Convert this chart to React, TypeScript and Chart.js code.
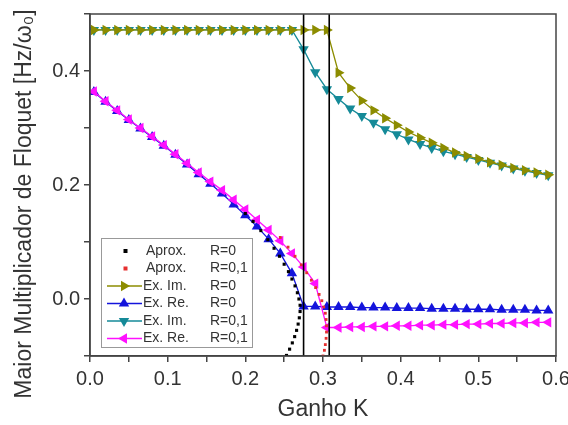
import React, { useEffect, useRef } from 'react';
import { Chart, registerables } from 'chart.js';

Chart.register(...registerables);

// ---------- data ----------
const kGrid = [
  0.005, 0.020, 0.035, 0.050, 0.065, 0.080, 0.095, 0.110, 0.125, 0.140,
  0.155, 0.170, 0.185, 0.200, 0.215, 0.230, 0.245, 0.260, 0.275, 0.290,
  0.305, 0.320, 0.335, 0.350, 0.365, 0.380, 0.395, 0.410, 0.425, 0.440,
  0.455, 0.470, 0.485, 0.500, 0.515, 0.530, 0.545, 0.560, 0.575, 0.590,
];

// Ex. Im. R=0
const exImR0 = [
  0.472, 0.472, 0.472, 0.472, 0.472, 0.472, 0.472, 0.472, 0.472, 0.472,
  0.472, 0.472, 0.472, 0.472, 0.472, 0.472, 0.472, 0.472, 0.472, 0.472,
  0.472, 0.397, 0.370, 0.348, 0.331, 0.317, 0.305, 0.293, 0.283, 0.274,
  0.265, 0.257, 0.251, 0.246, 0.240, 0.235, 0.230, 0.226, 0.222, 0.218,
];

// Ex. Im. R=0,1
const exImR01 = [
  0.472, 0.472, 0.472, 0.472, 0.472, 0.472, 0.472, 0.472, 0.472, 0.472,
  0.472, 0.472, 0.472, 0.472, 0.472, 0.472, 0.472, 0.472, 0.438, 0.398,
  0.368, 0.351, 0.334, 0.321, 0.309, 0.298, 0.289, 0.280, 0.272, 0.265,
  0.259, 0.254, 0.249, 0.244, 0.239, 0.234, 0.229, 0.225, 0.221, 0.217,
];

// Ex. Re. R=0
const exReR0 = [
  0.363, 0.346, 0.330, 0.314, 0.299, 0.284, 0.269, 0.253, 0.236, 0.219,
  0.202, 0.185, 0.166, 0.147, 0.127, 0.105, 0.080, 0.045, -0.013, -0.013,
  -0.014, -0.014, -0.014, -0.015, -0.015, -0.015, -0.016, -0.016, -0.016, -0.017,
  -0.017, -0.017, -0.018, -0.018, -0.018, -0.019, -0.019, -0.019, -0.020, -0.020,
];

// Ex. Re. R=0,1
const exReR01 = [
  0.364, 0.347, 0.331, 0.315, 0.300, 0.285, 0.270, 0.254, 0.238, 0.222,
  0.206, 0.191, 0.174, 0.157, 0.139, 0.121, 0.102, 0.080, 0.056, 0.027,
  -0.050, -0.050, -0.049, -0.049, -0.048, -0.048, -0.047, -0.047, -0.046, -0.046,
  -0.045, -0.045, -0.044, -0.044, -0.043, -0.043, -0.042, -0.042, -0.041, -0.041,
];

// Aprox. R=0
const aproxR0K = [
  0.200, 0.210, 0.220, 0.229, 0.237, 0.244, 0.250, 0.2555, 0.260, 0.264, 0.267,
  0.269, 0.2705, 0.2705, 0.2695, 0.268, 0.266, 0.2635, 0.2605, 0.257, 0.253,
];
const aproxR0V = [
  0.150, 0.136, 0.120, 0.104, 0.089, 0.075, 0.061, 0.048, 0.035, 0.023, 0.011,
  0.000, -0.011, -0.022, -0.033, -0.044, -0.055, -0.066, -0.077, -0.088, -0.099,
];

// Aprox. R=0,1
const aproxR01K = [
  0.245, 0.255, 0.264, 0.272, 0.279, 0.285, 0.2905, 0.295, 0.2985,
  0.301, 0.303, 0.304, 0.3045, 0.3045, 0.304, 0.303, 0.3018, 0.300,
];
const aproxR01V = [
  0.108, 0.091, 0.075, 0.060, 0.046, 0.033, 0.020, 0.008, -0.003,
  -0.014, -0.025, -0.036, -0.047, -0.058, -0.069, -0.080, -0.090, -0.100,
];

// vertical separators
const separatorK = [0.275, 0.308];

// ticks
const xTickValues = [0, 0.05, 0.1, 0.15, 0.2, 0.25, 0.3, 0.35, 0.4, 0.45, 0.5, 0.55, 0.6];
const xTickText = ['0.0', '', '0.1', '', '0.2', '', '0.3', '', '0.4', '', '0.5', '', '0.6'];
const yTickValues = [-0.1, 0, 0.1, 0.2, 0.3, 0.4, 0.5];
const yTickText = ['', '0.0', '', '0.2', '', '0.4', ''];

const xTitle = 'Ganho K';
const yTitle = 'Maior Multiplicador de Floquet [Hz/ω₀]';

const legendNames = ['Aprox.', 'Aprox.', 'Ex. Im.', 'Ex. Re.', 'Ex. Im.', 'Ex. Re.'];
const legendR = ['R=0', 'R=0,1', 'R=0', 'R=0', 'R=0,1', 'R=0,1'];

// ---------- styles ----------
const FONT = "'Liberation Sans', Arial, Helvetica, sans-serif";
const OLIVE = '#8c8c00';
const BLUE = '#1414dc';
const TEAL = '#158a98';
const MAGENTA = '#ff10ff';
const RED = '#e63030';
const BLACK = '#000000';
const AXIS = '#444444';
const TEXT = '#333333';

const legendStyle = [
  { color: BLACK, kind: 'dot', rot: 0 },
  { color: RED, kind: 'dot', rot: 0 },
  { color: OLIVE, kind: 'tri', rot: 90 },
  { color: BLUE, kind: 'tri', rot: 0 },
  { color: TEAL, kind: 'tri', rot: 180 },
  { color: MAGENTA, kind: 'tri', rot: 270 },
];

function drawTri(ctx: CanvasRenderingContext2D, x: number, y: number, r: number, rotDeg: number, color: string) {
  let rad = (rotDeg * Math.PI) / 180;
  ctx.beginPath();
  for (let i = 0; i < 3; i++) {
    const px = x + Math.sin(rad) * r;
    const py = y - Math.cos(rad) * r;
    if (i === 0) ctx.moveTo(px, py);
    else ctx.lineTo(px, py);
    rad += (2 * Math.PI) / 3;
  }
  ctx.closePath();
  ctx.fillStyle = color;
  ctx.fill();
}

const framePlugin = {
  id: 'frameAndLegend',
  afterDraw(chart: any) {
    const { ctx, chartArea: a } = chart;
    ctx.save();
    // frame
    ctx.strokeStyle = AXIS;
    ctx.lineWidth = 1.5;
    ctx.strokeRect(a.left, a.top, a.right - a.left, a.bottom - a.top);

    // y title
    ctx.save();
    ctx.translate(25, 204);
    ctx.rotate(-Math.PI / 2);
    ctx.font = `23px ${FONT}`;
    ctx.fillStyle = TEXT;
    ctx.textAlign = 'center';
    ctx.textBaseline = 'middle';
    ctx.fillText(yTitle, 0, 0);
    ctx.restore();

    // legend box
    const x0 = a.left + 11;
    const y0 = a.bottom - 118;
    const w = 151;
    const h = 109;
    ctx.fillStyle = '#ffffff';
    ctx.fillRect(x0, y0, w, h);
    ctx.strokeStyle = '#999999';
    ctx.lineWidth = 1;
    ctx.strokeRect(x0 + 0.5, y0 + 0.5, w, h);

    ctx.font = `14px ${FONT}`;
    ctx.textBaseline = 'middle';
    ctx.textAlign = 'left';
    for (let i = 0; i < legendNames.length; i++) {
      const st = legendStyle[i];
      const cy = y0 + 13 + i * 17.5;
      if (st.kind === 'tri') {
        ctx.strokeStyle = st.color;
        ctx.lineWidth = 1.3;
        ctx.beginPath();
        ctx.moveTo(x0 + 6, cy);
        ctx.lineTo(x0 + 41, cy);
        ctx.stroke();
        drawTri(ctx, x0 + 23, cy, 6, st.rot, st.color);
      } else {
        ctx.fillStyle = st.color;
        ctx.fillRect(x0 + 22.5, cy - 2, 4, 4);
      }
      ctx.fillStyle = TEXT;
      ctx.fillText(legendNames[i], x0 + (st.kind === 'dot' ? 45 : 42), cy);
      ctx.fillText(legendR[i], x0 + 109, cy);
    }
    ctx.restore();
  },
};

const xy = (ks: number[], vs: number[]) => ks.map((k, i) => ({ x: k, y: vs[i] }));

function triSeries(label: string, vals: number[], color: string, rot: number) {
  return {
    label,
    data: xy(kGrid, vals),
    showLine: true,
    borderColor: color,
    backgroundColor: color,
    borderWidth: 1.3,
    pointStyle: 'triangle',
    rotation: rot,
    pointRadius: 6,
    pointBorderWidth: 0,
    pointBackgroundColor: color,
    tension: 0,
  };
}

export default function App() {
  const ref = useRef<HTMLCanvasElement | null>(null);

  useEffect(() => {
    if (!ref.current) return;
    const datasets: any[] = [
      ...separatorK.map((k) => ({
        label: 'sep',
        data: [{ x: k, y: -0.1 }, { x: k, y: 0.5 }],
        showLine: true,
        borderColor: BLACK,
        borderWidth: 1.6,
        pointRadius: 0,
      })),
      {
        label: 'Aprox. R=0',
        data: xy(aproxR0K, aproxR0V),
        showLine: false,
        pointStyle: 'rect',
        pointRadius: 2.2,
        pointBorderWidth: 0,
        backgroundColor: BLACK,
        pointBackgroundColor: BLACK,
      },
      {
        label: 'Aprox. R=0,1',
        data: xy(aproxR01K, aproxR01V),
        showLine: false,
        pointStyle: 'rect',
        pointRadius: 2.0,
        pointBorderWidth: 0,
        backgroundColor: RED,
        pointBackgroundColor: RED,
      },
      triSeries('Ex. Re. R=0,1', exReR01, MAGENTA, 270),
      triSeries('Ex. Im. R=0', exImR0, OLIVE, 90),
      triSeries('Ex. Im. R=0,1', exImR01, TEAL, 180),
      triSeries('Ex. Re. R=0', exReR0, BLUE, 0),
    ];

    const chart = new Chart(ref.current, {
      type: 'scatter',
      data: { datasets },
      plugins: [framePlugin],
      options: {
        animation: false,
        responsive: false,
        maintainAspectRatio: false,
        layout: { padding: { top: 14, right: 12, left: 0, bottom: 0 } },
        plugins: {
          legend: { display: false },
          tooltip: { enabled: false },
        },
        scales: {
          x: {
            type: 'linear',
            min: 0,
            max: 0.6,
            afterBuildTicks: (s: any) => {
              s.ticks = xTickValues.map((v) => ({ value: v }));
            },
            afterFit: (s: any) => {
              s.height = 69;
              s.paddingLeft = 0;
              s.paddingRight = 0;
            },
            ticks: {
              autoSkip: false,
              maxRotation: 0,
              padding: 5,
              color: TEXT,
              font: { size: 20, family: FONT },
              callback: (_v: any, i: number) => xTickText[i],
            },
            grid: { drawOnChartArea: false, drawTicks: true, tickLength: 6, color: AXIS, lineWidth: 1.5 },
            border: { display: true, color: AXIS, width: 1.5 },
            title: {
              display: true,
              text: xTitle,
              color: TEXT,
              font: { size: 23, family: FONT },
              padding: { top: 4, bottom: 2 },
            },
          },
          y: {
            type: 'linear',
            min: -0.1,
            max: 0.5,
            afterBuildTicks: (s: any) => {
              s.ticks = yTickValues.map((v) => ({ value: v }));
            },
            afterFit: (s: any) => {
              s.width = 90;
              s.paddingTop = 0;
              s.paddingBottom = 0;
            },
            ticks: {
              autoSkip: false,
              padding: 4,
              color: TEXT,
              font: { size: 20, family: FONT },
              callback: (_v: any, i: number) => yTickText[i],
            },
            grid: { drawOnChartArea: false, drawTicks: true, tickLength: 6, color: AXIS, lineWidth: 1.5 },
            border: { display: true, color: AXIS, width: 1.5 },
            title: { display: false },
          },
        },
      },
    });
    return () => chart.destroy();
  }, []);

  return (
    <div style={{ position: 'absolute', left: 0, top: 0, width: 568, height: 425, background: '#fff' }}>
      <canvas ref={ref} width={568} height={425} style={{ display: 'block' }} />
    </div>
  );
}
